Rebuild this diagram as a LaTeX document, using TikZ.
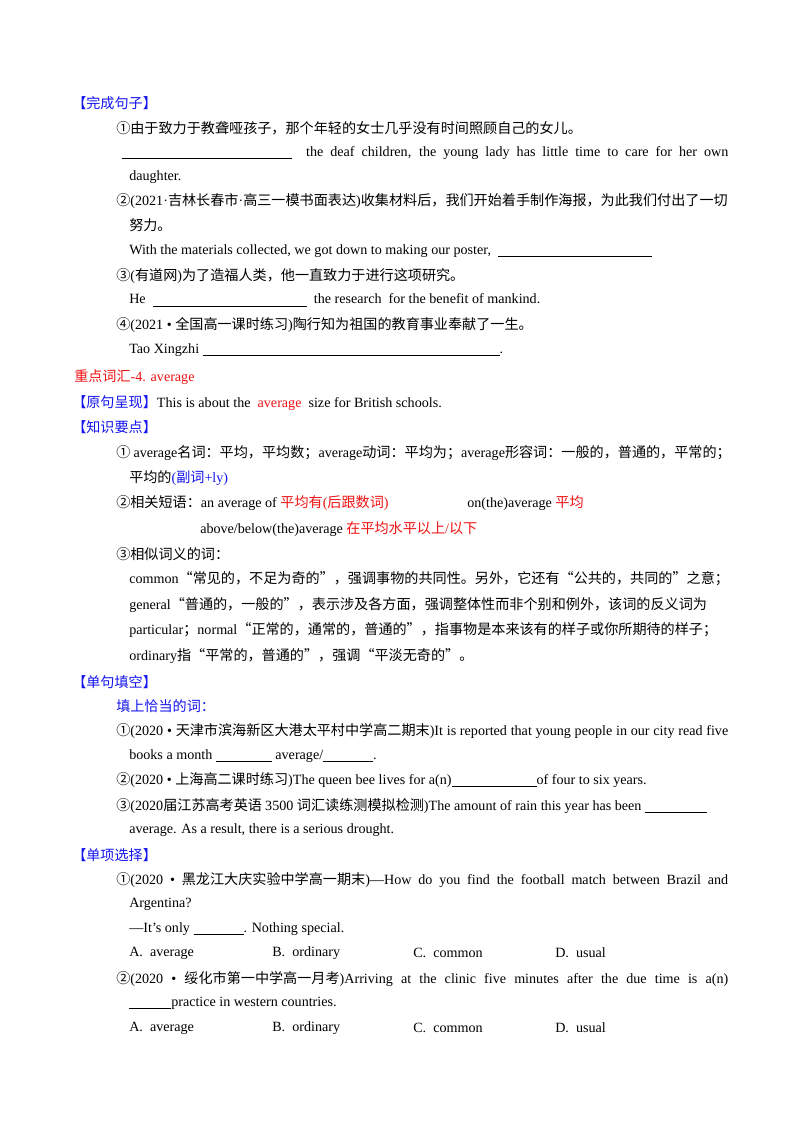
\documentclass[tikz,border=0pt]{standalone}
\usepackage{fontspec}
\setmainfont{Liberation Serif}
\newfontfamily\cjk{Noto Sans CJK SC}
\newfontfamily\latinf{Liberation Serif}
\newXeTeXintercharclass\CJKcls
\newcount\cc
\def\setrange#1#2{\cc=#1 \loop \XeTeXcharclass\cc=\CJKcls \advance\cc 1 \ifnum\cc<#2 \repeat}
\setrange{"4E00}{"A000}
\setrange{"3000}{"3040}
\setrange{"FF00}{"FFF0}
\setrange{"2460}{"2500}
\XeTeXcharclass"201C=\CJKcls
\XeTeXcharclass"201D=\CJKcls
\XeTeXinterchartoks 0 \CJKcls = {\cjk}
\XeTeXinterchartoks 4095 \CJKcls = {\cjk}
\XeTeXinterchartoks \CJKcls 0 = {\latinf}
\XeTeXinterchartoks 4095 0 = {\latinf}
\XeTeXinterchartokenstate=1
\newdimen\pxu \pxu=0.7441pt
\newcommand\blank[1]{\rule[-2pt]{#1\pxu}{0.5pt}}
\newcommand\jl[2]{\makebox[#1\pxu][s]{#2}}
\definecolor{hblue}{RGB}{20,20,240}
\definecolor{hred}{RGB}{240,20,20}
\begin{document}
\begin{tikzpicture}[x=0.7441pt,y=-0.7441pt,
  t/.style={anchor=west,inner sep=0pt,font=\fontsize{10.5pt}{12pt}\selectfont},
  h/.style={t,text=hblue}]
\useasboundingbox[fill=white] (0,0) rectangle (800,1132);
\node[h] (h1) at (72,103) {【完成句子】};
\node[t] (a1) at (116,128) {①由于致力于教聋哑孩子，那个年轻的女士几乎没有时间照顾自己的女儿。};
\node[t] (a2) at (122,153) {\jl{606}{\blank{170} \ the deaf children, the young lady has little time to care for her own}};
\node[t] (a3) at (129,177) {daughter.};
\node[t] (a4) at (116,201) {②(2021·吉林长春市·高三一模书面表达)收集材料后，我们开始着手制作海报，为此我们付出了一切};
\node[t] (a5) at (129,225) {努力。};
\node[t] (a6) at (129,251) {With the materials collected, we got down to making our poster, \ \blank{154}};
\node[t] (a7) at (116,276) {③(有道网)为了造福人类，他一直致力于进行这项研究。};
\node[t] (a8) at (129,300) {He \ \blank{154}\ \ the research\ \ for the benefit of mankind.};
\node[t] (a9) at (116,325) {④(2021 • 全国高一课时练习)陶行知为祖国的教育事业奉献了一生。};
\node[t] (a10) at (129,350) {Tao Xingzhi \blank{297}.};
\node[t,text=hred] (h2) at (74,377) {重点词汇-4. average};
\node[t] (h3) at (72,403) {\color{hblue}【原句呈现】\color{black}This is about the \ \textcolor{hred}{average} \ size for British schools.};
\node[h] (h4) at (72,427) {【知识要点】};
\node[t] (b1) at (116,453) {① average名词：平均，平均数；average动词：平均为；average形容词：一般的，普通的，平常的；};
\node[t] (b2) at (129,478) {平均的\textcolor{hblue}{(副词+ly)}};
\node[t] (b3) at (116,503) {②相关短语：an average of \textcolor{hred}{平均有(后跟数词)}};
\node[t] (b4) at (467,503) {on(the)average \textcolor{hred}{平均}};
\node[t] (b5) at (200,529) {above/below(the)average \textcolor{hred}{在平均水平以上/以下}};
\node[t] (b6) at (116,554) {③相似词义的词：};
\node[t] (b7) at (129,579) {common“常见的，不足为奇的”，强调事物的共同性。另外，它还有“公共的，共同的”之意；};
\node[t] (b8) at (129,605) {general“普通的，一般的”，表示涉及各方面，强调整体性而非个别和例外，该词的反义词为};
\node[t] (b9) at (129,630) {particular；normal“正常的，通常的，普通的”，指事物是本来该有的样子或你所期待的样子；};
\node[t] (b10) at (129,656) {ordinary指“平常的，普通的”，强调“平淡无奇的”。};
\node[h] (h5) at (72,682) {【单句填空】};
\node[h] (c0) at (116,706) {填上恰当的词：};
\node[t] (c1) at (116,731) {\jl{612}{①(2020 • 天津市滨海新区大港太平村中学高二期末)It is reported that young people in our city read five}};
\node[t] (c2) at (129,756) {books a month \blank{56} average/\blank{50}.};
\node[t] (c3) at (116,780) {②(2020 • 上海高二课时练习)The queen bee lives for a(n)\blank{85}of four to six years.};
\node[t] (c4) at (116,806) {③(2020届江苏高考英语 3500 词汇读练测模拟检测)The amount of rain this year has been \blank{62}};
\node[t] (c5) at (129,830) {average. As a result, there is a serious drought.};
\node[h] (h6) at (72,855) {【单项选择】};
\node[t] (d1) at (116,880) {\jl{612}{①(2020 • 黑龙江大庆实验中学高一期末)—How do you find the football match between Brazil and}};
\node[t] (d2) at (129,904) {Argentina?};
\node[t] (d3) at (129,929) {—It’s only \blank{50}. Nothing special.};
\node[t] (d4a) at (129,953) {A.\ \ average};
\node[t] (d4b) at (272,953) {B.\ \ ordinary};
\node[t] (d4c) at (413,953) {C.\ \ common};
\node[t] (d4d) at (555,953) {D.\ \ usual};
\node[t] (e1) at (116,979) {\jl{612}{②(2020 • 绥化市第一中学高一月考)Arriving at the clinic five minutes after the due time is a(n)}};
\node[t] (e2) at (129,1003) {\blank{42}practice in western countries.};
\node[t] (e3a) at (129,1028) {A.\ \ average};
\node[t] (e3b) at (272,1028) {B.\ \ ordinary};
\node[t] (e3c) at (413,1028) {C.\ \ common};
\node[t] (e3d) at (555,1028) {D.\ \ usual};
\end{tikzpicture}
\end{document}
